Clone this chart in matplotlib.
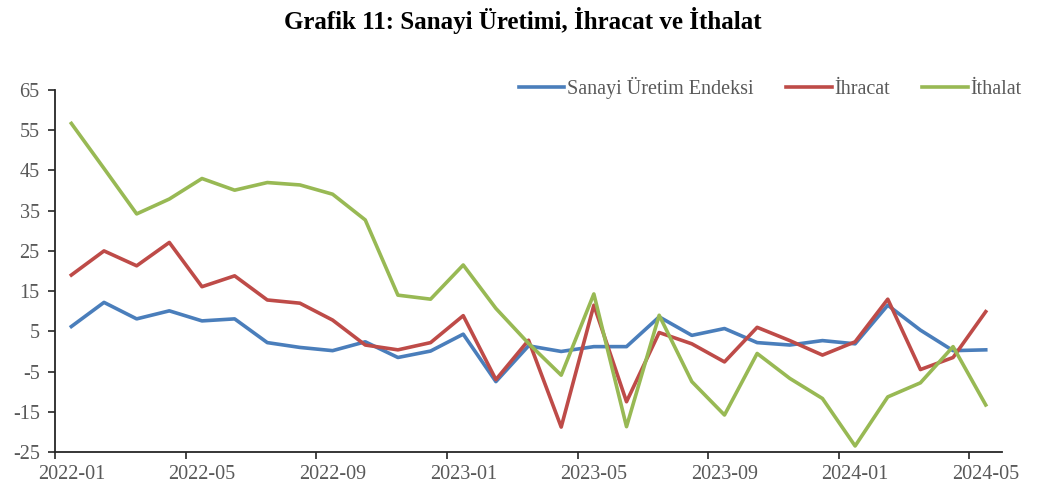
import matplotlib.pyplot as plt
import numpy as np

months = ['2022-01', '2022-02', '2022-03', '2022-04', '2022-05', '2022-06', '2022-07', '2022-08',
          '2022-09', '2022-10', '2022-11', '2022-12', '2023-01', '2023-02', '2023-03', '2023-04',
          '2023-05', '2023-06', '2023-07', '2023-08', '2023-09', '2023-10', '2023-11', '2023-12',
          '2024-01', '2024-02', '2024-03', '2024-04', '2024-05']

sanayi = [6.2, 12.2, 8.1, 10.1, 7.6, 8.1, 2.2, 1.0, 0.2, 2.4, -1.5, 0.1, 4.3, -7.5, 1.4,
          0.0, 1.2, 1.2, 8.6, 4.0, 5.7, 2.2, 1.6, 2.7, 1.9, 11.5, 5.3, 0.2, 0.4]
ihracat = [19.0, 25.0, 21.3, 27.1, 16.1, 18.8, 12.8, 12.0, 7.8, 1.6, 0.4, 2.2, 8.9, -7.0, 2.8,
           -18.8, 11.5, -12.5, 4.7, 1.9, -2.6, 6.0, 2.7, -0.9, 2.4, 13.0, -4.5, -1.5, 9.9]
ithalat = [56.7, 45.5, 34.2, 37.9, 43.0, 40.1, 42.0, 41.4, 39.1, 32.7, 14.0, 13.0, 21.5, 10.7, 2.0,
           -5.9, 14.3, -18.7, 9.0, -7.5, -15.8, -0.5, -6.7, -11.7, -23.5, -11.3, -7.8, 1.2, -13.3]

series = [('Sanayi Üretim Endeksi', sanayi, '#4A7EBB'),
          ('İhracat', ihracat, '#BE4B48'),
          ('İthalat', ithalat, '#98B954')]

plt.rcParams['font.family'] = ['Liberation Serif', 'DejaVu Serif']
plt.rcParams['axes.unicode_minus'] = False

fig = plt.figure(figsize=(10.46, 4.92), dpi=100)
ax = fig.add_axes([0.0526, 0.0813, 0.9054, 0.7357])

x = np.arange(len(months))
for name, vals, col in series:
    ax.plot(x, vals, color=col, lw=2.6, label=name)

ax.set_xlim(-0.5, len(months) - 0.5)
ax.set_ylim(-25, 65)
ax.set_yticks(np.arange(-25, 66, 10))

ax.set_xticks(x[::4])
ax.set_xticklabels([months[i] for i in x[::4]])
ax.set_xticks(np.arange(-0.5, len(months) - 0.5, 4), minor=True)
ax.tick_params(axis='x', which='major', length=0, pad=9)
ax.tick_params(axis='x', which='minor', length=5, width=1.2, color='#262626')
ax.tick_params(axis='y', length=5, width=1.2, color='#262626', pad=6)
ax.tick_params(labelsize=14.5, labelcolor='#595959')

for s in ['top', 'right']:
    ax.spines[s].set_visible(False)
for s in ['left', 'bottom']:
    ax.spines[s].set_color('#262626')
    ax.spines[s].set_linewidth(1.3)

ax.legend(loc='center right', bbox_to_anchor=(0.977, 0.821), bbox_transform=fig.transFigure,
          ncol=3, frameon=False, borderaxespad=0, borderpad=0,
          fontsize=14.5, handlelength=2.25, handletextpad=0.15, columnspacing=1.6,
          labelcolor='#595959')

fig.suptitle('Grafik 11: Sanayi Üretimi, İhracat ve İthalat', fontsize=18, fontweight='bold',
             y=0.985)

fig.savefig('out.png', dpi=100)
